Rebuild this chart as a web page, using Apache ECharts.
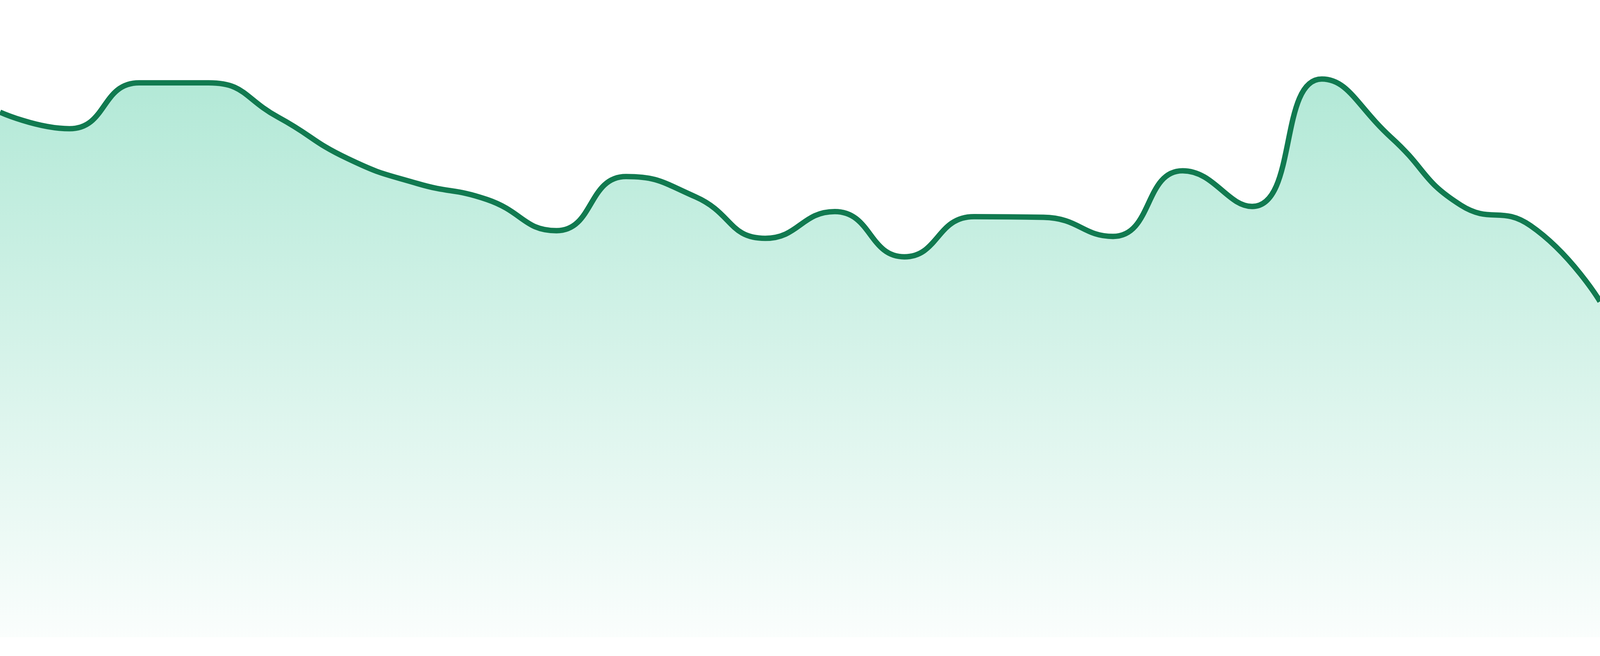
<!DOCTYPE html>
<html>
<head>
<meta charset="utf-8">
<script src="https://cdn.jsdelivr.net/npm/echarts@6/dist/echarts.min.js"></script>
<style>
html,body{margin:0;padding:0;background:#ffffff;width:100%;height:100%;overflow:hidden;}
#chart{width:100vw;height:100vh;}
</style>
</head>
<body>
<div id="chart"></div>
<script>
const categories = ['1','2','3','4','5','6','7','8','9','10','11','12','13','14','15','16','17','18','19','20','21','22','23','24'];
const values = [82.4, 79.8, 87.0, 87.0, 81.6, 75.1, 71.2, 68.7, 63.8, 72.3, 69.1, 62.6, 66.8, 59.7, 66.0, 65.9, 62.9, 73.2, 67.6, 87.6, 78.4, 67.8, 64.6, 52.7];

const el = document.getElementById('chart');
const kx = el.clientWidth / 4800;
const ky = el.clientHeight / 1680;
const k = Math.sqrt(kx * ky);
const chart = echarts.init(el, null, {renderer: 'canvas'});
chart.setOption({
  animation: false,
  backgroundColor: '#ffffff',
  grid: {left: 0, right: 0, top: 0, bottom: '2.857%'},
  xAxis: {
    type: 'category',
    data: categories,
    boundaryGap: false,
    show: false
  },
  yAxis: {
    type: 'value',
    min: 0,
    max: 100,
    show: false
  },
  series: [{
    type: 'line',
    data: values,
    smooth: true,
    symbol: 'none',
    lineStyle: {color: '#117a50', width: 15 * k},
    areaStyle: {
      opacity: 1,
      color: new echarts.graphic.LinearGradient(0, 0, 0, 1, [
        {offset: 0, color: 'rgba(16,185,129,0.32)'},
        {offset: 1, color: 'rgba(16,185,129,0.02)'}
      ])
    }
  }]
});
</script>
</body>
</html>
